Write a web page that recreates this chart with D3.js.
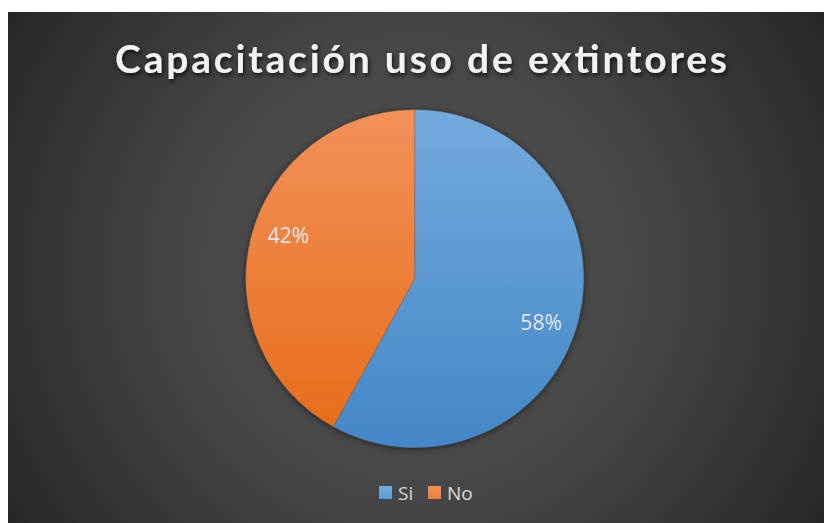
<!DOCTYPE html>
<html><head><meta charset="utf-8">
<script src="https://cdn.jsdelivr.net/npm/d3@7"></script>
<style>html,body{margin:0;padding:0;background:#fff;overflow:hidden}</style>
</head><body>
<svg id="c" width="824" height="523"></svg>
<script>
const title = "Capacitación uso de extintores";
const categories = ["Si", "No"];
const values = [58, 42];
const labels = ["58%", "42%"];
const colorsTop = ["#74aade", "#f39159"];
const colorsBot = ["#4387c7", "#e66b17"];

const svg = d3.select("#c");
const W = 824, H = 523;
const defs = svg.append("defs");

const bg = defs.append("radialGradient").attr("id","bg")
  .attr("gradientUnits","userSpaceOnUse").attr("cx",416).attr("cy",268).attr("r",520);
bg.append("stop").attr("offset","0").attr("stop-color","#535353");
bg.append("stop").attr("offset","0.45").attr("stop-color","#464646");
bg.append("stop").attr("offset","1").attr("stop-color","#222222");

const sh = defs.append("filter").attr("id","tsh").attr("x","-10%").attr("y","-30%").attr("width","120%").attr("height","160%");
sh.append("feDropShadow").attr("dx",1.5).attr("dy",2.5).attr("stdDeviation",2).attr("flood-color","#000").attr("flood-opacity",0.7);
const psh = defs.append("filter").attr("id","psh").attr("x","-20%").attr("y","-20%").attr("width","140%").attr("height","140%");
psh.append("feDropShadow").attr("dx",0).attr("dy",1).attr("stdDeviation",3).attr("flood-color","#000").attr("flood-opacity",0.55);

svg.append("rect").attr("x",8).attr("y",12).attr("width",W-8).attr("height",H-12).attr("fill","url(#bg)");

svg.append("text").attr("x",421).attr("y",72.5).attr("text-anchor","middle")
  .attr("font-family","Lato, 'Open Sans', sans-serif").attr("font-weight",700).attr("font-size",39)
  .attr("fill","#f2f2f2").attr("filter","url(#tsh)")
  .attr("textLength",612).attr("lengthAdjust","spacing").text(title);

const cx = 414.75, cy = 278.7, R = 169;
const pie = d3.pie().sort(null).value(d => d)(values);
const arc = d3.arc().innerRadius(0).outerRadius(R);
const g = svg.append("g").attr("transform",`translate(${cx},${cy})`);

categories.forEach((c,i) => {
  const lg = defs.append("linearGradient").attr("id","g"+i).attr("gradientUnits","userSpaceOnUse")
    .attr("x1",0).attr("y1",-R).attr("x2",0).attr("y2",R);
  lg.append("stop").attr("offset",0).attr("stop-color",colorsTop[i]);
  lg.append("stop").attr("offset",1).attr("stop-color",colorsBot[i]);
});

const gp = g.append("g").attr("filter","url(#psh)");
gp.selectAll("path").data(pie).join("path").attr("d",arc)
  .attr("fill",(d,i)=>`url(#g${i})`).attr("stroke","rgba(80,80,80,0.35)").attr("stroke-width",0.7);

// label placement: slightly rotated from mid-angle (best-fit style)
const lr = R*0.79, rot = 4.5*Math.PI/180;
g.selectAll("text.lbl").data(pie).join("text").attr("class","lbl")
  .attr("transform",d=>{const a=(d.startAngle+d.endAngle)/2+rot;return `translate(${lr*Math.sin(a)},${-lr*Math.cos(a)})`;})
  .attr("text-anchor","middle").attr("dy","0.36em")
  .attr("font-family","'Open Sans', sans-serif").attr("font-size",21).attr("fill","#e6e6e6")
  .text((d,i)=>labels[i]);

// legend
const leg = svg.append("g");
const legX = [379, 428];
categories.forEach((c,i)=>{
  const lg = defs.append("linearGradient").attr("id","lg"+i).attr("x1",0).attr("y1",0).attr("x2",0).attr("y2",1);
  lg.append("stop").attr("offset",0).attr("stop-color",colorsTop[i]);
  lg.append("stop").attr("offset",1).attr("stop-color",d3.interpolateRgb(colorsTop[i],colorsBot[i])(0.5));
  leg.append("rect").attr("x",legX[i]).attr("y",486).attr("width",13).attr("height",13)
    .attr("fill",`url(#lg${i})`);
  leg.append("text").attr("x",legX[i]+19).attr("y",499.5)
    .attr("font-family","'Open Sans', sans-serif").attr("font-size",19).attr("fill","#d9d9d9").text(c);
});
</script>
</body></html>
